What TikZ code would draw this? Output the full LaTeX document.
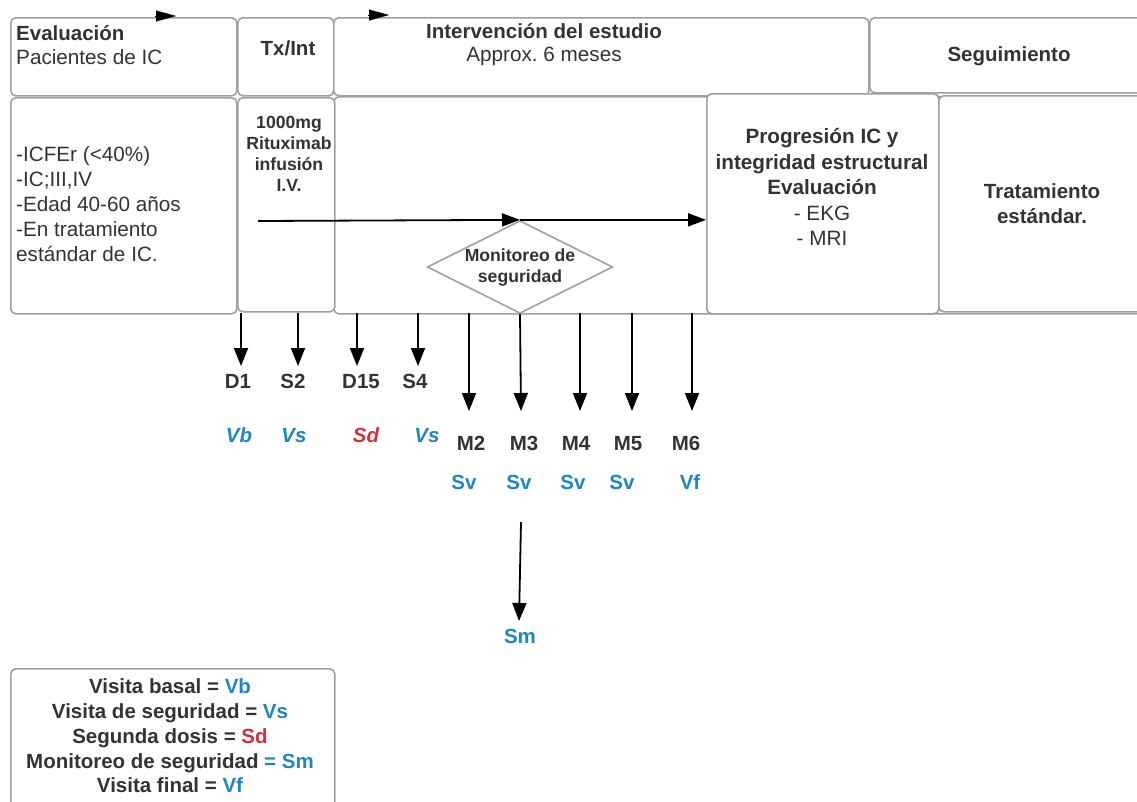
\documentclass[tikz,border=0pt]{standalone}
\usepackage{fontspec}
\setmainfont{Liberation Sans}
\usetikzlibrary{arrows.meta,shapes.geometric}
\definecolor{txt}{HTML}{333333}
\definecolor{bl}{HTML}{1F86C4}
\definecolor{rd}{HTML}{D0323E}
\definecolor{bd}{HTML}{A0A0A0}
\frenchspacing
\begin{document}
\frenchspacing
\begin{tikzpicture}[x=1pt,y=-1pt,
  box/.style={draw=bd, line width=1.6pt, rounded corners=5pt, anchor=north west, inner sep=0pt, fill=white},
  tl/.style={text=txt, inner sep=0pt, font=\fontsize{20.7}{24}\selectfont},
  tb/.style={text=txt, inner sep=0pt, font=\fontsize{20.5}{24}\selectfont\bfseries},
  lab/.style={text height=14.7pt, text depth=0pt},
  sm/.style={text=txt, inner sep=0pt, font=\fontsize{17.6}{21}\selectfont\bfseries},
  ab/.style={lab, text=bl, inner sep=0pt, font=\fontsize{20.5}{24}\selectfont\bfseries\itshape},
  ar/.style={lab, text=rd, inner sep=0pt, font=\fontsize{20.5}{24}\selectfont\bfseries\itshape},
  bb/.style={lab, text=bl, inner sep=0pt, font=\fontsize{20.5}{24}\selectfont\bfseries},
  arr/.style={line width=1.8pt, -{Triangle[length=18pt,width=14pt]}},
  harr/.style={line width=1.8pt, -{Triangle[length=18pt,width=13pt]}},
  toparr/.style={line width=0.3pt, -{Triangle[length=20pt,width=11pt]}}
]
\useasboundingbox (0,0) rectangle (1137,801);

% header row
\node[box, minimum width=226pt, minimum height=78pt] (eval) at (10,17) {};
\node[box, minimum width=96pt, minimum height=78pt] (txh) at (237,17) {};
\node[box, minimum width=535pt, minimum height=78pt] (inth) at (333,17) {};
\node[box, minimum width=290pt, minimum height=75pt] (seg) at (869,17) {};

% second row
\node[box, minimum width=820pt, minimum height=217pt] (main) at (333,96) {};
\node[box, minimum width=226pt, minimum height=216pt] (crit) at (10,97) {};
\node[box, minimum width=97pt, minimum height=214pt] (tx) at (237,97) {};
\node[box, minimum width=232pt, minimum height=220pt] (prog) at (706,93) {};
\node[box, minimum width=210pt, minimum height=216pt] (trat) at (938,95) {};

% top arrow heads
\coordinate (ta1) at (155,16); \coordinate (tb1) at (176,16);
\coordinate (ta2) at (368,15); \coordinate (tb2) at (389,15);
\draw[toparr] (ta1) -- (tb1);
\draw[toparr] (ta2) -- (tb2);

% header texts
\node[tb, anchor=west] (evt) at (16,33) {Evaluación};
\node[tl, anchor=west] (pac) at (16,57) {Pacientes de IC};
\node[tb] (txint) at (288,48) {Tx/Int};
\node[tb] (intt) at (544,31) {Intervención del estudio};
\node[tl] (appr) at (544,56) {Approx.\ 6 meses};
\node[tb] (segt) at (1009,56) {Seguimiento};

% row texts
\node[tl, anchor=west, align=left, font=\fontsize{20.7}{25}\selectfont] (critt) at (16,204)
  {-ICFEr (<40\%)\\-IC;III,IV\\-Edad 40-60 años\\-En tratamiento\\estándar de IC.};
\node[sm, align=center] (txt1) at (289,154) {1000mg\\Rituximab\\infusión\\I.V.};
\node[tl, align=center, font=\fontsize{20.7}{25.5}\selectfont] (progt) at (822,187)
  {\bfseries Progresión IC y\\\bfseries integridad estructural\\\bfseries Evaluación\\- EKG\\- MRI};
\node[tb, align=center, font=\fontsize{20.5}{25}\selectfont\bfseries] (tratt) at (1042,204) {Tratamiento\\estándar.};

% diamond
\node[diamond, draw=bd, line width=1.6pt, fill=white, minimum width=180pt, minimum height=90pt,
  inner sep=0pt, aspect=2, sm, align=center] (mon) at (520,267) {Monitoreo de\\seguridad};

% horizontal arrow
\coordinate (hs) at (258,221);
\draw[harr] (hs) -- (mon.north);
\draw[harr] (mon.north) -- (prog.west |- mon.north);

% time points
\node[tb, lab] (D1) at (238,381) {D1};
\node[tb, lab] (S2) at (293,381) {S2};
\node[tb, lab] (D15) at (361,381) {D15};
\node[tb, lab] (S4) at (415,381) {S4};
\node[tb, lab] (M2) at (471,443) {M2};
\node[tb, lab] (M3) at (524,443) {M3};
\node[tb, lab] (M4) at (576,443) {M4};
\node[tb, lab] (M5) at (628,443) {M5};
\node[tb, lab] (M6) at (686,443) {M6};

\node[ab] (vb) at (239,435) {Vb};
\node[ab] (vs1) at (294,435) {Vs};
\node[ar] (sd) at (366,435) {Sd};
\node[ab] (vs2) at (427,435) {Vs};
\node[bb] (sv1) at (464,482) {Sv};
\node[bb] (sv2) at (519,482) {Sv};
\node[bb] (sv3) at (573,482) {Sv};
\node[bb] (sv4) at (622,482) {Sv};
\node[bb] (vf) at (690,482) {Vf};

% down arrows
\foreach \n/\x in {D1/241,S2/298,D15/357,S4/418}{
  \coordinate (s\n) at (\x,313);
  \coordinate (e\n) at (\x,366);
  \draw[arr] (s\n) -- (e\n);
}
\foreach \n/\x in {M2/469,M4/580,M5/632,M6/692}{
  \coordinate (s\n) at (\x,313);
  \coordinate (e\n) at (\x,411);
  \draw[arr] (s\n) -- (e\n);
}
\coordinate (eM3) at (521,411);
\draw[arr] (mon.south) -- (eM3);

% Sm arrow
\node[bb] (smt) at (520,636) {Sm};
\coordinate (smS) at (521,522);
\coordinate (smE) at (519,621);
\draw[arr] (smS) -- (smE);

% legend
\node[box, minimum width=324pt, minimum height=150pt] (leg) at (10,668) {};
\node[tb, align=center, font=\fontsize{20.5}{24.7}\selectfont\bfseries] (legt) at (170,736)
  {Visita basal = \textcolor{bl}{Vb}\\
   Visita de seguridad = \textcolor{bl}{Vs}\\
   Segunda dosis = \textcolor{rd}{Sd}\\
   Monitoreo de seguridad \textcolor{bl}{= Sm}\\
   Visita final = \textcolor{bl}{Vf}};
\end{tikzpicture}
\end{document}
